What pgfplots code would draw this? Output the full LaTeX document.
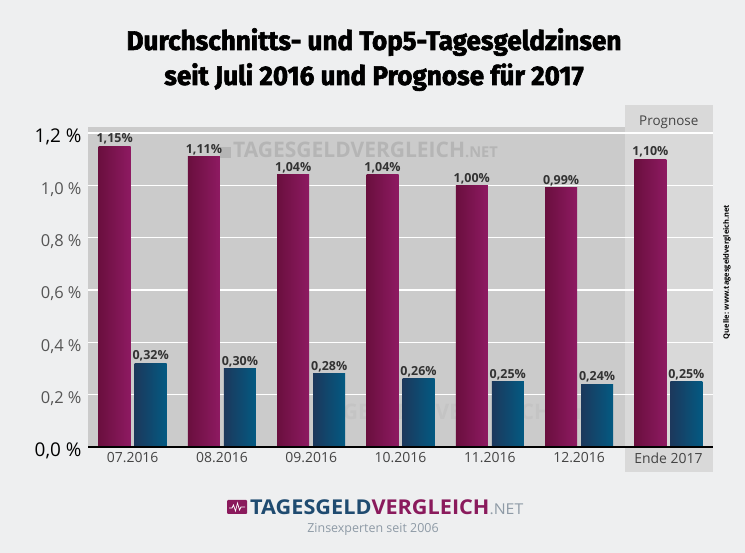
\documentclass[border=0pt]{standalone}
\usepackage{pgfplots}
\pgfplotsset{compat=1.18}
\usepackage{fontspec}
\setmainfont{Open Sans}
\newfontfamily\titlefont[FakeStretch=0.97,FakeBold=2.2]{Fira Sans}
\newfontfamily\logofont[FakeStretch=1.06]{Open Sans}
\newfontfamily\wmfont[FakeStretch=0.98]{Open Sans}
\definecolor{bgc}{HTML}{EEEFF0}
\definecolor{plotbg}{HTML}{CBCBCB}
\definecolor{progbg}{HTML}{D9D9D9}
\definecolor{purpL}{HTML}{6A0F3E}
\definecolor{purpR}{HTML}{8E1A62}
\definecolor{blueL}{HTML}{1C385C}
\definecolor{blueR}{HTML}{035A82}
\definecolor{labgray}{HTML}{444444}
\definecolor{valgray}{HTML}{333333}
\definecolor{tickgray}{HTML}{555555}
\definecolor{logoblue}{HTML}{1F4B70}
\definecolor{logopurp}{HTML}{8A1A5C}
\definecolor{logogray}{HTML}{8E9AA6}
\definecolor{wmgray}{HTML}{B5B5B5}
\definecolor{wmgray2}{HTML}{C4C4C4}
\pgfplotsset{
  pbar/.style={ybar, bar width=32bp, bar shift=-18bp, draw=none, left color=purpL, right color=purpR,
    every node near coord/.append style={xshift=-18bp}},
  bbar/.style={ybar, bar width=32bp, bar shift=18bp, draw=none, left color=blueL, right color=blueR,
    every node near coord/.append style={xshift=18bp}},
}
\begin{document}
\begin{tikzpicture}
\begin{scope}[x=1bp,y=1bp]
\fill[bgc] (0,0) rectangle (745,553);
% title
\node[anchor=base, inner sep=0pt, font=\titlefont\bfseries\fontsize{27}{27}\selectfont, text=black] at (374,503) {Durchschnitts- und Top5-Tagesgeldzinsen};
\node[anchor=base, inner sep=0pt, font=\titlefont\bfseries\fontsize{27}{27}\selectfont, text=black] at (374,468) {seit Juli 2016 und Prognose für 2017};
% plot backgrounds
\fill[plotbg] (88,106) rectangle (624.6,426);
\fill[progbg] (624.6,81) rectangle (713,448);
\node[font=\fontsize{13.5}{14}\selectfont, text=labgray] at (668.8,431) {Prognose};
% watermarks
\fill[wmgray] (220,395) rectangle (231,406);
\node[anchor=base west, inner sep=0pt, font=\wmfont\bfseries\fontsize{21.5}{22}\selectfont, text=wmgray] at (233,395) {TAGESGELDVERGLEICH\fontsize{15}{15}\selectfont.NET};
\node[anchor=base west, inner sep=0pt, font=\wmfont\bfseries\fontsize{21.5}{22}\selectfont, text=wmgray2] at (318,133) {TAGESGELDVERGLEICH\fontsize{15}{15}\selectfont.NET};
\end{scope}
\begin{axis}[
  at={(88bp,106bp)}, anchor=south west,
  scale only axis, width=625bp, height=320bp,
  xmin=-0.5, xmax=6.5, ymin=0, ymax=1.2229,
  axis line style={draw=none},
  tick style={draw=none},
  ymajorgrids, grid style={white, line width=1.6pt},
  ytick={0,0.2,0.4,0.6,0.8,1.0,1.2},
  yticklabels={{\fontsize{19}{19}\selectfont\color{black}0,0 \%},
               {0,2 \%},{0,4 \%},{0,6 \%},{0,8 \%},{1,0 \%},
               {\fontsize{19}{19}\selectfont\color{black}1,2 \%}},
  yticklabel style={font=\fontsize{16.5}{17}\selectfont, text=tickgray, xshift=-3bp, yshift=-4bp},
  xtick={0,1,2,3,4,5,6},
  xticklabels={07.2016,08.2016,09.2016,10.2016,11.2016,12.2016,Ende 2017},
  xticklabel style={font=\fontsize{14}{14}\selectfont, text=labgray, yshift=-2bp},
  /pgf/number format/assume math mode=true,
  nodes near coords={\pgfmathprintnumber[use comma,fixed,fixed zerofill,precision=2]{\pgfplotspointmeta}\%},
  nodes near coords style={font=\bfseries\fontsize{12.5}{13}\selectfont, text=valgray, inner sep=1.5bp},
  clip=false,
]
% Durchschnitt (purple)
\addplot[pbar] coordinates {(0,1.15)};
\addplot[pbar] coordinates {(1,1.11)};
\addplot[pbar] coordinates {(2,1.04)};
\addplot[pbar] coordinates {(3,1.04)};
\addplot[pbar] coordinates {(4,1.00)};
\addplot[pbar] coordinates {(5,0.99)};
\addplot[pbar] coordinates {(6,1.10)};
% Top5 (blue)
\addplot[bbar] coordinates {(0,0.32)};
\addplot[bbar] coordinates {(1,0.30)};
\addplot[bbar] coordinates {(2,0.28)};
\addplot[bbar] coordinates {(3,0.26)};
\addplot[bbar] coordinates {(4,0.25)};
\addplot[bbar] coordinates {(5,0.24)};
\addplot[bbar] coordinates {(6,0.25)};
\draw[black, line width=1.3pt] (axis cs:-0.5,0) -- (axis cs:6.5,0);
\end{axis}
\begin{scope}[x=1bp,y=1bp]
% logo
\fill[logopurp, rounded corners=1bp] (227,39) rectangle (247,53);
\draw[white, line width=0.7pt] (229,45) -- (232,45) -- (233.5,48) -- (235.5,42) -- (237.5,50) -- (239.5,43) -- (241,46) -- (245,46);
\node[anchor=base west, inner sep=0pt, font=\logofont\bfseries\fontsize{20.5}{21}\selectfont] at (250,38) {\textcolor{logoblue}{TAGESGELD}\textcolor{logopurp}{VERGLEICH}\textcolor{logogray}{\fontsize{15}{15}\selectfont\mdseries.NET}};
\node[font=\fontsize{12.5}{13}\selectfont, text=logogray] at (373,24) {Zinsexperten seit 2006};
% source
\node[rotate=90, font=\bfseries\fontsize{7.5}{8}\selectfont, text=black] at (727,281) {Quelle: www.tagesgeldvergleich.net};
\end{scope}
\end{tikzpicture}
\end{document}
